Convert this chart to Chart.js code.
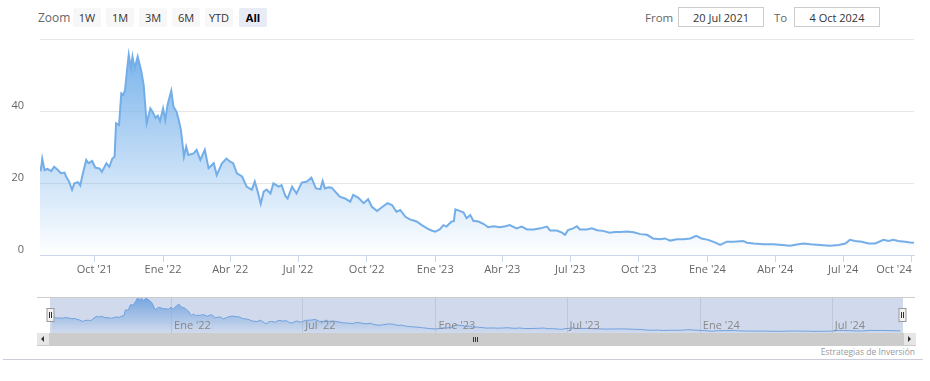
<!DOCTYPE html>
<html><head><meta charset="utf-8">
<script src="https://cdn.jsdelivr.net/npm/chart.js@4/dist/chart.umd.min.js"></script>
<style>
html,body{margin:0;padding:0;background:#fff;}
body{width:930px;height:381px;position:relative;overflow:hidden;font-family:"Open Sans",sans-serif;}
.abs{position:absolute;}
.zl{left:38px;top:9px;font-size:12px;color:#666;line-height:18px;}
.btn{top:8px;height:19px;line-height:19px;background:#f7f7f7;border-radius:2px;text-align:center;font-size:11px;color:#333;}
.btn.sel{background:#e6ebf5;font-weight:bold;color:#000;}
.lbl{top:9px;font-size:11.5px;color:#666;line-height:18px;}
.box{top:7px;line-height:19px;border:1px solid #ccc;text-align:center;font-size:11px;color:#333;box-sizing:border-box;height:20px;}
#credits{right:15px;top:346px;font-size:8.5px;color:#999;}
#bline{left:3px;top:359px;width:920px;height:1px;background:#ccd;}
</style></head>
<body>
<div class="abs zl">Zoom</div>
<div class="abs btn" style="left:73px;width:28px">1W</div>
<div class="abs btn" style="left:106px;width:28px">1M</div>
<div class="abs btn" style="left:139px;width:28px">3M</div>
<div class="abs btn" style="left:172px;width:28px">6M</div>
<div class="abs btn" style="left:205px;width:28px">YTD</div>
<div class="abs btn sel" style="left:239px;width:28px">All</div>
<div class="abs lbl" style="left:645px">From</div>
<div class="abs box" style="left:678px;width:86px">20 Jul 2021</div>
<div class="abs lbl" style="left:774px">To</div>
<div class="abs box" style="left:794px;width:86px">4 Oct 2024</div>
<canvas id="main" class="abs" width="930" height="285" style="left:0;top:0"></canvas>
<canvas id="nav" class="abs" width="930" height="36" style="left:0;top:297px"></canvas>
<div class="abs" style="left:37px;top:333px;width:878px;height:13px;background:#f2f2f2"></div>
<div class="abs" style="left:50px;top:333px;width:853px;height:13px;background:#cccccc"></div>
<div class="abs" style="left:37px;top:333px;width:12px;height:12px;background:#e6e6e6;border:1px solid #ccc;border-left:none;border-top:none"></div>
<div class="abs" style="left:41px;top:336px;width:0;height:0;border-top:3px solid transparent;border-bottom:3px solid transparent;border-right:3px solid #333"></div>
<div class="abs" style="left:903px;top:333px;width:12px;height:12px;background:#e6e6e6;border:1px solid #ccc;border-right:none;border-top:none"></div>
<div class="abs" style="left:908px;top:336px;width:0;height:0;border-top:3px solid transparent;border-bottom:3px solid transparent;border-left:3px solid #333"></div>
<div class="abs" style="left:473px;top:337px;width:1px;height:5px;background:#333"></div>
<div class="abs" style="left:475px;top:337px;width:1px;height:5px;background:#333"></div>
<div class="abs" style="left:477px;top:337px;width:1px;height:5px;background:#333"></div>
<div class="abs" id="credits">Estrategias de Inversión</div>
<div class="abs" id="bline"></div>
<script>
const startDate = '2021-07-20';
const endDate = '2024-10-04';
const dates = ['2021-07-20','2021-07-21','2021-07-23','2021-07-26','2021-07-30','2021-08-04','2021-08-08','2021-08-13','2021-08-17','2021-08-22','2021-08-24','2021-08-28','2021-09-01','2021-09-04','2021-09-09','2021-09-12','2021-09-15','2021-09-20','2021-09-23','2021-09-28','2021-10-02','2021-10-08','2021-10-11','2021-10-17','2021-10-21','2021-10-25','2021-10-28','2021-10-30','2021-11-03','2021-11-06','2021-11-09','2021-11-11','2021-11-14','2021-11-16','2021-11-19','2021-11-21','2021-11-24','2021-11-28','2021-12-03','2021-12-06','2021-12-10','2021-12-15','2021-12-18','2021-12-22','2021-12-25','2021-12-28','2022-01-01','2022-01-04','2022-01-07','2022-01-12','2022-01-15','2022-01-19','2022-01-22','2022-01-25','2022-01-29','2022-02-01','2022-02-04','2022-02-11','2022-02-15','2022-02-20','2022-02-26','2022-03-03','2022-03-10','2022-03-14','2022-03-21','2022-03-27','2022-04-01','2022-04-05','2022-04-10','2022-04-17','2022-04-23','2022-04-30','2022-05-04','2022-05-08','2022-05-12','2022-05-16','2022-05-20','2022-05-25','2022-05-29','2022-06-05','2022-06-09','2022-06-14','2022-06-17','2022-06-23','2022-06-29','2022-07-06','2022-07-13','2022-07-19','2022-07-25','2022-07-31','2022-08-03','2022-08-06','2022-08-11','2022-08-15','2022-08-22','2022-08-26','2022-09-02','2022-09-09','2022-09-13','2022-09-20','2022-09-27','2022-10-03','2022-10-08','2022-10-15','2022-10-21','2022-10-29','2022-11-04','2022-11-10','2022-11-15','2022-11-22','2022-11-28','2022-12-07','2022-12-14','2022-12-21','2022-12-27','2023-01-01','2023-01-07','2023-01-12','2023-01-16','2023-01-23','2023-01-26','2023-01-28','2023-02-01','2023-02-08','2023-02-12','2023-02-17','2023-02-21','2023-02-28','2023-03-07','2023-03-13','2023-03-20','2023-03-29','2023-04-05','2023-04-11','2023-04-20','2023-04-27','2023-05-04','2023-05-13','2023-05-22','2023-05-31','2023-06-04','2023-06-13','2023-06-20','2023-06-24','2023-06-28','2023-07-05','2023-07-10','2023-07-14','2023-07-23','2023-07-30','2023-08-06','2023-08-14','2023-08-23','2023-08-30','2023-09-06','2023-09-15','2023-09-24','2023-10-03','2023-10-12','2023-10-20','2023-10-29','2023-11-05','2023-11-12','2023-11-21','2023-11-30','2023-12-09','2023-12-17','2023-12-24','2024-01-02','2024-01-11','2024-01-18','2024-01-27','2024-02-05','2024-02-18','2024-02-23','2024-03-03','2024-03-16','2024-03-29','2024-04-10','2024-04-21','2024-05-02','2024-05-09','2024-05-18','2024-05-31','2024-06-13','2024-06-25','2024-07-04','2024-07-10','2024-07-17','2024-07-26','2024-08-04','2024-08-13','2024-08-24','2024-08-31','2024-09-06','2024-09-13','2024-09-22','2024-09-29','2024-10-04'];
const prices = [24.5,23.3,26.7,23.6,23.9,23.3,24.5,23.6,22.7,22.9,21.8,20.4,18.1,19.9,20.2,19.3,22.2,26.4,25.5,26.1,24.3,24.0,23.1,25.5,24.5,26.8,27.3,36.6,36.1,44.9,44.5,45.8,51.9,55.6,51.9,55.1,51.9,55.1,50.9,47.2,36.6,40.7,39.8,38.1,38.7,37.2,40.7,37.5,41.7,45.6,41.2,39.8,37.5,34.7,27.3,30.1,27.8,28.2,29.2,26.4,29.2,24.1,25.5,22.2,25.5,26.8,25.9,25.5,22.7,21.8,19.0,18.1,20.4,17.6,14.2,17.6,18.2,17.1,19.9,19.0,19.4,16.4,15.7,19.0,17.1,20.1,20.4,21.5,18.5,18.3,20.6,18.5,18.8,18.7,17.1,16.2,15.7,14.8,16.7,15.9,14.4,15.5,13.4,12.2,13.2,14.4,13.9,12.0,12.5,10.6,9.9,9.3,8.3,7.4,6.8,6.5,7.1,8.3,7.9,9.3,9.4,12.7,12.4,11.8,10.2,11.1,9.5,9.3,8.6,7.7,8.0,7.7,8.0,8.3,7.4,7.9,7.1,7.1,7.4,7.9,6.8,6.8,6.2,5.6,6.9,7.4,8.0,7.1,7.1,7.4,6.9,6.7,6.2,6.4,6.4,6.5,6.3,5.8,5.6,4.6,4.4,4.6,4.0,4.4,4.4,4.6,5.3,4.6,4.2,3.5,2.8,3.7,3.7,3.9,3.4,3.2,3.0,3.0,2.8,2.6,3.0,3.2,3.0,2.8,2.6,2.8,3.2,4.2,3.9,3.7,3.2,3.2,4.2,3.9,4.2,3.9,3.7,3.5,3.4];
const yTicks = [0, 20, 40, 60];
const xTickDates = ['2021-10-01','2022-01-01','2022-04-01','2022-07-01','2022-10-01','2023-01-01','2023-04-01','2023-07-01','2023-10-01','2024-01-01','2024-04-01','2024-07-01','2024-10-01'];
const navTickDates = ['2022-01-01','2022-07-01','2023-01-01','2023-07-01','2024-01-01','2024-07-01'];
const monthNames = ['Ene','Feb','Mar','Abr','May','Jun','Jul','Ago','Sep','Oct','Nov','Dic'];

const START = Date.parse(startDate), END = Date.parse(endDate);
const points = dates.map((d, i) => ({x: Date.parse(d), y: prices[i]}));
const fmt = v => { const d = new Date(v); return monthNames[d.getUTCMonth()] + " '" + String(d.getUTCFullYear()).slice(2); };
const FONT = '"Open Sans", sans-serif';
const maxP = Math.max(...prices);

function grad(ctx) {
  const chart = ctx.chart, a = chart.chartArea;
  if (!a) return 'rgba(124,181,236,0.4)';
  const top = chart.scales.y.getPixelForValue(maxP);
  const g = chart.ctx.createLinearGradient(0, top, 0, a.bottom);
  g.addColorStop(0, 'rgba(124,181,236,1)');
  g.addColorStop(1, 'rgba(124,181,236,0)');
  return g;
}

new Chart(document.getElementById('main'), {
  type: 'line',
  data: { datasets: [{ data: points, borderColor: '#74aee8', borderWidth: 2, pointRadius: 0, fill: 'origin', tension: 0, backgroundColor: grad }] },
  options: {
    animation: false, responsive: false, devicePixelRatio: 1,
    layout: { padding: { top: 39, right: 16, left: 0, bottom: 0 } },
    plugins: { legend: { display: false }, tooltip: { enabled: false } },
    scales: {
      x: {
        type: 'linear', min: START, max: END,
        afterBuildTicks: s => { s.ticks = [{value: START}].concat(xTickDates.map(d => ({value: Date.parse(d)}))); },
        ticks: { autoSkip: false, maxRotation: 0, align: 'inner', padding: 1, color: '#666', font: { family: FONT, size: 11 },
          callback: (v, i) => i === 0 ? '' : fmt(v) },
        grid: { drawOnChartArea: false, drawTicks: true, tickLength: 7, color: c => c.index === 0 ? 'rgba(0,0,0,0)' : '#ccd6eb' },
        border: { color: '#ccd6eb', width: 1 },
        afterFit: s => { s.height = 30; }
      },
      y: {
        min: 0, max: 60,
        afterBuildTicks: s => { s.ticks = yTicks.map(v => ({value: v})); },
        ticks: { padding: 16, labelOffset: -5, color: '#666', font: { family: FONT, size: 11 }, callback: v => v === 60 ? '' : String(v) },
        grid: { color: '#e6e6e6', drawTicks: false },
        border: { display: false },
        afterFit: s => { s.width = 40; }
      }
    }
  }
});

const navPlugin = {
  id: 'navdeco',
  beforeDatasetsDraw(chart) {
    const c = chart.ctx, x = chart.scales.x;
    c.save(); c.strokeStyle = '#e6e6e6'; c.lineWidth = 1;
    navTickDates.forEach(d => { const px = Math.round(x.getPixelForValue(Date.parse(d))) + 0.5; c.beginPath(); c.moveTo(px, 0); c.lineTo(px, 36); c.stroke(); });
    c.restore();
  },
  afterDatasetsDraw(chart) {
    const c = chart.ctx, x = chart.scales.x;
    c.save();
    c.fillStyle = 'rgba(102,133,194,0.3)';
    c.fillRect(50, 0, 853, 36);
    c.strokeStyle = '#cccccc'; c.lineWidth = 1;
    c.beginPath(); c.moveTo(37, 0.5); c.lineTo(915, 0.5); c.stroke();
    c.fillStyle = '#888'; c.font = '11px ' + FONT; c.textBaseline = 'middle'; c.textAlign = 'left';
    navTickDates.forEach(d => { const px = x.getPixelForValue(Date.parse(d)); c.fillText(fmt(Date.parse(d)), px + 3, 29); });
    [50.5, 902.5].forEach(hx => {
      c.fillStyle = '#f2f2f2'; c.strokeStyle = '#999'; c.lineWidth = 1;
      c.fillRect(hx - 3.5, 11, 7, 13); c.strokeRect(hx - 3.5, 11.5, 7, 13);
      c.strokeStyle = '#333';
      c.beginPath(); c.moveTo(hx - 1, 15); c.lineTo(hx - 1, 21); c.moveTo(hx + 1, 15); c.lineTo(hx + 1, 21); c.stroke();
    });
    c.restore();
  }
};

new Chart(document.getElementById('nav'), {
  type: 'line',
  data: { datasets: [{ data: points, borderColor: '#74aee8', borderWidth: 1, pointRadius: 0, fill: 'origin', tension: 0, backgroundColor: grad }] },
  options: {
    animation: false, responsive: false, devicePixelRatio: 1,
    layout: { padding: { top: 0, right: 29.5, left: 51.5, bottom: 0 } },
    plugins: { legend: { display: false }, tooltip: { enabled: false } },
    scales: {
      x: { type: 'linear', min: START, max: END, display: false },
      y: { min: 0, max: 57, display: false }
    }
  },
  plugins: [navPlugin]
});
</script>
</body></html>
